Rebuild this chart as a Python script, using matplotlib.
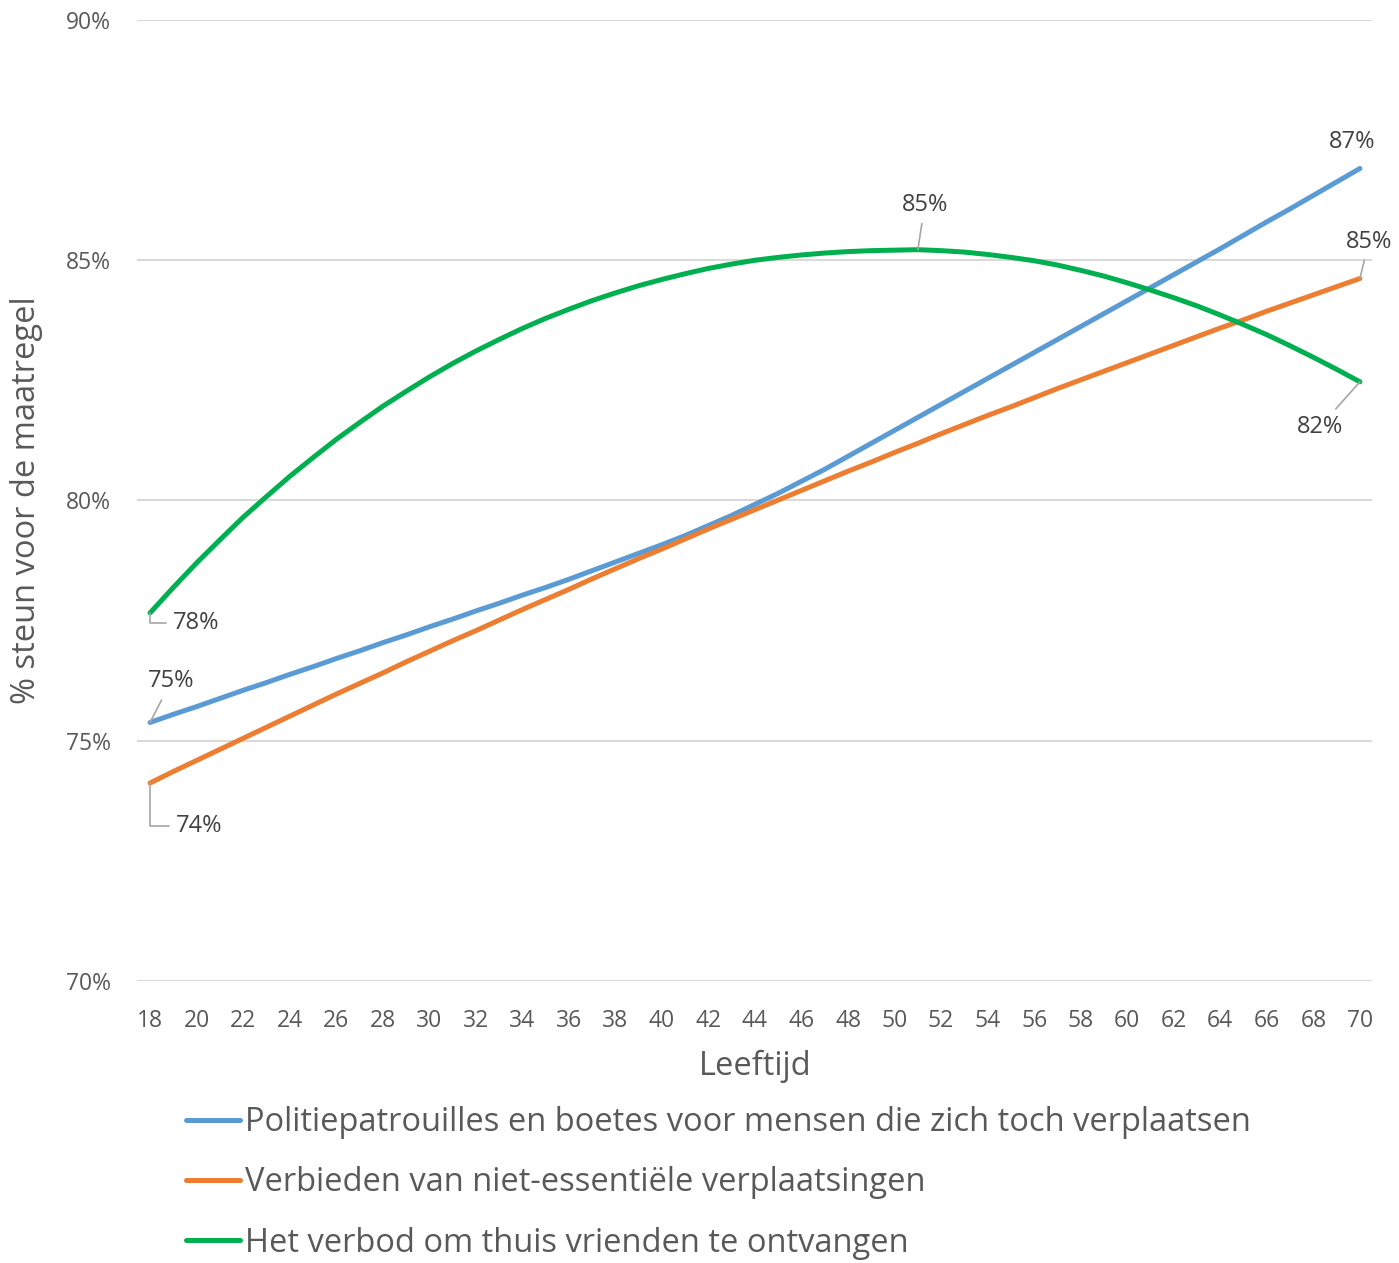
import matplotlib
matplotlib.use("Agg")
import matplotlib.pyplot as plt
from matplotlib.ticker import FuncFormatter

plt.rcParams['font.family'] = ['Open Sans', 'DejaVu Sans']

ages = list(range(18, 71))
xticks = list(range(18, 71, 2))

politie = [75.38, 75.55, 75.71, 75.88, 76.05, 76.21, 76.38, 76.54, 76.71, 76.87,
           77.04, 77.20, 77.37, 77.53, 77.70, 77.86, 78.03, 78.19, 78.36, 78.54,
           78.72, 78.90, 79.08, 79.27, 79.48, 79.69, 79.92, 80.15, 80.40, 80.65,
           80.92, 81.19, 81.46, 81.73, 82.00, 82.27, 82.54, 82.81, 83.08, 83.35,
           83.62, 83.89, 84.16, 84.43, 84.70, 84.97, 85.24, 85.52, 85.80, 86.07,
           86.35, 86.63, 86.91]
verbieden = [74.12, 74.36, 74.59, 74.82, 75.05, 75.28, 75.51, 75.74, 75.97, 76.19,
             76.41, 76.64, 76.86, 77.08, 77.29, 77.51, 77.73, 77.94, 78.15, 78.37,
             78.58, 78.79, 78.99, 79.20, 79.41, 79.61, 79.81, 80.01, 80.21, 80.41,
             80.61, 80.80, 81.00, 81.19, 81.39, 81.58, 81.77, 81.95, 82.14, 82.33,
             82.51, 82.69, 82.87, 83.05, 83.23, 83.41, 83.59, 83.76, 83.94, 84.11,
             84.28, 84.45, 84.62]
vrienden = [77.66, 78.19, 78.70, 79.18, 79.65, 80.08, 80.50, 80.89, 81.27, 81.62,
            81.96, 82.27, 82.57, 82.85, 83.11, 83.35, 83.58, 83.79, 83.98, 84.16,
            84.32, 84.47, 84.60, 84.72, 84.83, 84.92, 85.00, 85.06, 85.11, 85.15,
            85.18, 85.20, 85.21, 85.22, 85.20, 85.17, 85.12, 85.06, 84.99, 84.90,
            84.79, 84.67, 84.53, 84.38, 84.22, 84.05, 83.86, 83.66, 83.45, 83.22,
            82.98, 82.73, 82.47]

labels = ['Politiepatrouilles en boetes voor mensen die zich toch verplaatsen',
          'Verbieden van niet-essentiële verplaatsingen',
          'Het verbod om thuis vrienden te ontvangen']
colors = ['#5B9BD5', '#ED7D31', '#00B050']

txt = '#595959'
lab = '#404040'

fig = plt.figure(figsize=(13.99, 12.63), dpi=100)
ax = fig.add_axes([137/1399, 282/1263, (1372-137)/1399, (1243-282)/1263])

lines = []
for ys, c, l in zip([politie, verbieden, vrienden], colors, labels):
    ln, = ax.plot(ages, ys, color=c, lw=3.6, label=l, solid_capstyle='round', zorder=3)
    lines.append(ln)

ax.set_xlim(17.44, 70.52)
ax.set_ylim(70, 90)
ax.set_yticks([70, 75, 80, 85, 90])
ax.set_xticks(xticks)
ax.yaxis.set_major_formatter(FuncFormatter(lambda v, p: f'{v:.0f}%'))
ax.grid(axis='y', color='#D9D9D9', lw=1.5)
ax.set_axisbelow(True)
for s in ax.spines.values():
    s.set_visible(False)
ax.tick_params(axis='both', length=0, labelsize=16.5, colors=txt)
ax.tick_params(axis='x', pad=20)
ax.tick_params(axis='y', pad=19)

fig.text(755/1399, 1 - 1066/1263, 'Leeftijd', fontsize=23.5, color=txt,
         ha='center', va='center')
fig.text(27/1399, 1 - 500/1263, '% steun voor de maatregel', fontsize=23.5,
         color=txt, ha='center', va='center', rotation=90)

# data labels with leader lines
lead = dict(arrowstyle='-', color='#A6A6A6', lw=1.2, shrinkA=3, shrinkB=0)
elbow = dict(lead, connectionstyle='angle,angleA=0,angleB=90,rad=0')
imax = vrienden.index(max(vrienden))
notes = [
    (ages[0], vrienden[0], (23, -10), 'left', elbow),
    (ages[0], politie[0], (21, 41), 'center', lead),
    (ages[0], verbieden[0], (26, -43), 'left', elbow),
    (ages[imax], vrienden[imax], (7, 45), 'center', lead),
    (ages[-1], politie[-1], (-8, 26), 'center', None),
    (ages[-1], verbieden[-1], (9, 37), 'center', lead),
    (ages[-1], vrienden[-1], (-40, -45), 'center', lead),
]
for x, y, off, ha, ap in notes:
    ax.annotate(f'{round(y)}%', xy=(x, y), xytext=off, textcoords='offset pixels',
                ha=ha, va='center', fontsize=17, color=lab, arrowprops=ap,
                annotation_clip=False, zorder=4)

fig.legend(handles=lines, loc='upper left', bbox_to_anchor=(186/1399, 1 - 1106/1263),
           frameon=False, fontsize=23.5, handlelength=1.65, handletextpad=0.15,
           labelspacing=0.84, labelcolor=txt, borderpad=0, borderaxespad=0)

fig.savefig('out.png', dpi=100)
